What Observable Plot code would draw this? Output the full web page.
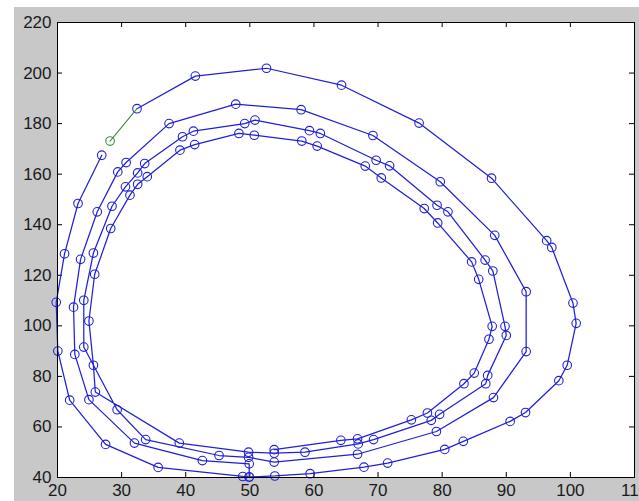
<!DOCTYPE html>
<html><head><meta charset="utf-8">
<script src="https://cdn.jsdelivr.net/npm/d3@7"></script>
<script src="https://cdn.jsdelivr.net/npm/@observablehq/plot@0.6"></script>
<style>
html,body{margin:0;padding:0;background:#fff;}
#wrap{position:relative;width:639px;height:501px;overflow:hidden;}
#bg{position:absolute;left:14px;top:7px;right:0;bottom:0;background:#c8c8c8;}
#chart{position:absolute;left:0;top:0;}
</style></head><body>
<div id="wrap"><div id="bg"></div><div id="chart"></div></div>
<script>
// Tick values
const xTicks = [20, 30, 40, 50, 60, 70, 80, 90, 100, 110];
const yTicks = [40, 60, 80, 100, 120, 140, 160, 180, 200, 220];

// Start segment (green)
const startX = [28.2, 32.4];
const startY = [173.1, 185.9];

// Outer loop (blue)
const outerX = [32.4, 41.5, 52.6, 64.3, 76.4, 87.7, 96.3, 97.1, 100.4, 100.9, 99.5, 98.2, 93.0, 90.6, 83.3, 80.4, 71.5, 67.8, 59.4, 53.9, 49.9, 48.9, 35.7, 27.5, 21.9, 20.05, 19.8, 21.1, 23.2, 26.9];
const outerY = [185.9, 198.8, 201.9, 195.2, 180.2, 158.4, 133.7, 131.0, 109.0, 101.0, 84.4, 78.3, 65.7, 62.2, 54.3, 51.1, 45.7, 44.1, 41.5, 40.6, 40.2, 40.4, 44.0, 53.1, 70.6, 90.0, 109.3, 128.5, 148.4, 167.5];

// Inner loops (blue, continuous)
const innerX = [49.9, 49.9, 42.6, 32.0, 24.9, 22.7, 22.5, 23.6, 26.2, 29.4, 30.7, 37.4, 47.8, 58.0, 69.2, 79.7, 88.2, 93.1, 93.1, 88.0, 79.1, 66.8, 53.8,
  49.8, 45.2, 33.75, 29.3, 24.1, 24.1, 25.6, 28.5, 30.6, 32.5, 33.6, 39.5, 41.2, 49.2, 50.8, 59.3, 61.0, 69.7, 71.8, 79.2, 80.9, 86.7, 87.9, 89.8, 90.0, 87.1, 86.8, 79.6, 78.3, 69.3, 66.9, 58.6, 53.8,
  49.8, 39.0, 25.9, 25.6, 24.9, 25.8, 28.3, 31.3, 32.5, 34.0, 39.1, 41.4, 48.3, 50.7, 58.1, 60.5, 68.0, 70.5, 77.2, 79.3, 84.6, 85.7, 87.8, 87.3, 85.0, 83.4, 77.7, 75.2, 66.8, 64.2, 53.8];
const innerY = [40.2, 45.4, 46.7, 53.6, 70.8, 88.7, 107.4, 126.3, 145.1, 160.9, 164.6, 180.0, 187.7, 185.5, 175.3, 157.0, 135.8, 113.5, 89.8, 71.6, 58.2, 49.2, 46.1,
  48.0, 48.7, 55.0, 66.8, 91.6, 110.1, 128.8, 147.3, 155.0, 160.5, 164.2, 174.8, 177.0, 180.0, 181.4, 177.2, 176.1, 165.5, 163.3, 147.7, 145.1, 126.0, 121.7, 99.8, 96.2, 80.4, 77.1, 65.0, 62.6, 55.0, 53.3, 50.0, 49.6,
  50.0, 53.6, 73.8, 84.4, 101.9, 120.4, 138.5, 151.7, 156.0, 159.0, 169.5, 171.7, 176.1, 175.4, 173.1, 171.1, 163.2, 158.5, 146.4, 140.7, 125.3, 118.4, 99.8, 94.7, 81.3, 77.1, 65.5, 62.8, 55.3, 54.7, 51.0];

const toPts = (xs, ys) => xs.map((x, i) => ({x, y: ys[i]}));
const outer = toPts(outerX, outerY);
const inner = toPts(innerX, innerY);
const start = toPts(startX, startY);

const blue = "#2020d8";
const green = "#3f8f3f";

const chart = Plot.plot({
  width: 639, height: 501,
  marginLeft: 57, marginTop: 22, marginRight: 5, marginBottom: 24,
  style: {background: "transparent", fontFamily: "'Liberation Sans', Arial, sans-serif", fontSize: "17px", color: "#1a1a1a", overflow: "visible"},
  x: {domain: [20, 110], label: null},
  y: {domain: [40, 220], label: null},
  marks: [
    Plot.frame({fill: "white", stroke: "none"}),
    Plot.ruleX(xTicks, {x: d => d, insetTop: 450, stroke: "#000"}),
    Plot.ruleX(xTicks, {x: d => d, insetBottom: 450, stroke: "#000"}),
    Plot.ruleY(yTicks, {y: d => d, insetRight: 572, stroke: "#000"}),
    Plot.ruleY(yTicks, {y: d => d, insetLeft: 572, stroke: "#000"}),
    Plot.axisX(xTicks, {tickSize: 0, tickPadding: 6, fontSize: 17, label: null}),
    Plot.axisY(yTicks, {tickSize: 0, tickPadding: 6, fontSize: 17, label: null}),
    Plot.line(inner, {x: "x", y: "y", stroke: blue, strokeWidth: 1.25}),
    Plot.line(outer, {x: "x", y: "y", stroke: blue, strokeWidth: 1.25}),
    Plot.dot(inner, {x: "x", y: "y", r: 4.3, stroke: blue, fill: "none", strokeWidth: 1.1}),
    Plot.dot(outer, {x: "x", y: "y", r: 4.3, stroke: blue, fill: "none", strokeWidth: 1.1}),
    Plot.line(start, {x: "x", y: "y", stroke: green, strokeWidth: 1.1}),
    Plot.dot(start.slice(0, 1), {x: "x", y: "y", r: 4.3, stroke: green, fill: "none", strokeWidth: 1.1}),
    Plot.frame({stroke: "#000", strokeWidth: 1})
  ]
});
document.getElementById("chart").appendChild(chart);
</script>
</body></html>
